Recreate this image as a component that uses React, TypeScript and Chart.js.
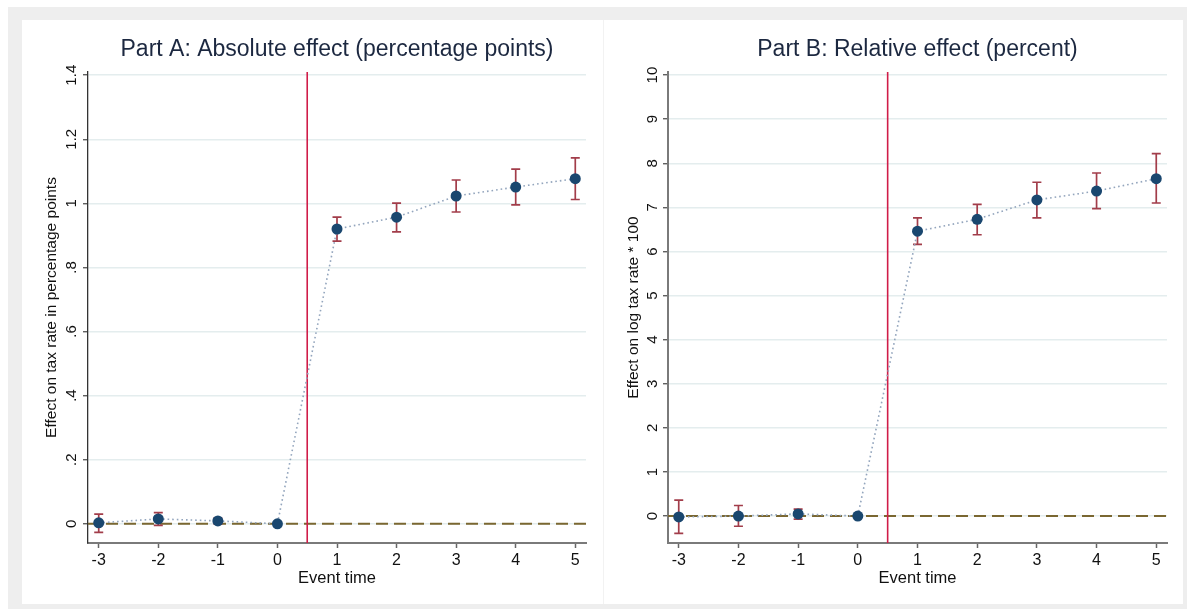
import React, { useEffect, useRef } from "react";
import { Chart, registerables } from "chart.js";

Chart.register(...registerables);

// Event-study estimates with 95% confidence intervals
const eventTime = [-3, -2, -1, 0, 1, 2, 3, 4, 5];

const absEstimate = [0.003, 0.015, 0.009, 0, 0.92, 0.957, 1.023, 1.051, 1.077];
const absLower = [-0.027, -0.005, 0.0, null, 0.882, 0.911, 0.973, 0.995, 1.012];
const absUpper = [0.03, 0.035, 0.018, null, 0.957, 1.001, 1.073, 1.107, 1.142];

const relEstimate = [-0.02, 0.0, 0.05, 0, 6.46, 6.73, 7.17, 7.37, 7.65];
const relLower = [-0.39, -0.23, -0.07, null, 6.16, 6.38, 6.76, 6.97, 7.1];
const relUpper = [0.36, 0.24, 0.16, null, 6.76, 7.07, 7.57, 7.78, 8.22];

const treatmentLine = 0.5;
const FONT = "'Liberation Sans', Arial, sans-serif";

// Zero reference (dashed) and treatment onset (vertical) lines
const refLines = {
  id: "refLines",
  beforeDatasetsDraw(chart: any) {
    const { ctx, chartArea, scales } = chart;
    const y0 = scales.y.getPixelForValue(0);
    const xv = scales.x.getPixelForValue(treatmentLine);
    ctx.save();
    ctx.strokeStyle = "#7a6731";
    ctx.lineWidth = 2;
    ctx.setLineDash([12, 6]);
    ctx.beginPath();
    ctx.moveTo(chartArea.left, y0);
    ctx.lineTo(chartArea.right, y0);
    ctx.stroke();
    ctx.setLineDash([]);
    ctx.strokeStyle = "#d01c48";
    ctx.lineWidth = 1.6;
    ctx.beginPath();
    ctx.moveTo(xv, chartArea.top);
    ctx.lineTo(xv, chartArea.bottom);
    ctx.stroke();
    ctx.restore();
  },
};

// Capped confidence-interval bars
const ciBars = {
  id: "ciBars",
  beforeDatasetsDraw(chart: any, _args: any, opts: any) {
    const { ctx, scales } = chart;
    const lo: (number | null)[] = opts.lower || [];
    const hi: (number | null)[] = opts.upper || [];
    ctx.save();
    ctx.strokeStyle = "#a23d4a";
    ctx.lineWidth = 1.7;
    const cap = 4.5;
    eventTime.forEach((t, i) => {
      if (lo[i] == null || hi[i] == null) return;
      const x = scales.x.getPixelForValue(t);
      const yl = scales.y.getPixelForValue(lo[i]);
      const yh = scales.y.getPixelForValue(hi[i]);
      ctx.beginPath();
      ctx.moveTo(x, yl);
      ctx.lineTo(x, yh);
      ctx.moveTo(x - cap, yl);
      ctx.lineTo(x + cap, yl);
      ctx.moveTo(x - cap, yh);
      ctx.lineTo(x + cap, yh);
      ctx.stroke();
    });
    ctx.restore();
  },
};

type PanelProps = {
  title: string;
  yTitle: string;
  estimate: number[];
  lower: (number | null)[];
  upper: (number | null)[];
  yMin: number;
  yMax: number;
  yStep: number;
  yFormat: (v: number) => string;
  yAxisWidth: number;
  yTickPad: number;
  rightPad: number;
  yBorderColor: string;
  yBorderWidth: number;
  width: number;
  height: number;
};

function Panel(p: PanelProps) {
  const ref = useRef<HTMLCanvasElement>(null);
  useEffect(() => {
    if (!ref.current) return;
    const chart = new Chart(ref.current, {
      type: "scatter",
      data: {
        datasets: [
          {
            data: eventTime.map((x, i) => ({ x, y: p.estimate[i] })),
            showLine: true,
            borderColor: "#93a5bd",
            borderWidth: 1.6,
            borderDash: [1.6, 3],
            pointRadius: 5.5,
            pointBackgroundColor: "#1a476f",
            pointBorderColor: "#1a476f",
            pointBorderWidth: 0,
          },
        ],
      },
      options: {
        animation: false,
        responsive: false,
        layout: { padding: { left: 0, right: p.rightPad, top: 0, bottom: 0 } },
        plugins: {
          legend: { display: false },
          tooltip: { enabled: false },
          title: {
            display: true,
            text: p.title,
            fullSize: false,
            color: "#1c2840",
            font: { family: FONT, size: 23, weight: "normal", lineHeight: 1.2 },
            padding: { top: 16, bottom: 8.4 },
          },
          ciBars: { lower: p.lower, upper: p.upper },
        } as any,
        scales: {
          x: {
            type: "linear",
            min: -3.18,
            max: 5.18,
            afterFit: (s: any) => {
              s.height = 61;
            },
            ticks: {
              stepSize: 1,
              includeBounds: false,
              padding: 3,
              color: "#111",
              font: { family: FONT, size: 16 },
              callback: (v: any) => String(v),
            },
            grid: {
              drawOnChartArea: false,
              drawTicks: true,
              tickLength: 5,
              tickColor: "#666",
              tickWidth: 1.5,
            },
            border: { color: "#7a7a7a", width: 2 },
            title: {
              display: true,
              text: "Event time",
              color: "#111",
              font: { family: FONT, size: 16.5, lineHeight: 1.2 },
              padding: { top: 0, bottom: 16 },
            },
          },
          y: {
            type: "linear",
            min: p.yMin,
            max: p.yMax,
            afterFit: (s: any) => {
              s.width = p.yAxisWidth;
            },
            ticks: {
              stepSize: p.yStep,
              includeBounds: false,
              minRotation: 90,
              maxRotation: 90,
              crossAlign: "center",
              padding: p.yTickPad,
              color: "#111",
              font: { family: FONT, size: 15 },
              callback: (v: any) => p.yFormat(Number(v)),
            },
            grid: {
              color: "#e4edee",
              lineWidth: 1.5,
              drawTicks: true,
              tickLength: 5,
              tickColor: "#444",
              tickWidth: 1.2,
            },
            border: { color: p.yBorderColor, width: p.yBorderWidth },
            title: {
              display: true,
              text: p.yTitle,
              color: "#111",
              font: { family: FONT, size: 15.5, lineHeight: 1.2 },
              padding: { top: 20, bottom: 0 },
            },
          },
        },
      } as any,
      plugins: [refLines, ciBars],
    });
    return () => chart.destroy();
  }, []);
  return <canvas ref={ref} width={p.width} height={p.height} style={{ display: "block" }} />;
}

const fmtAbs = (v: number) => {
  const r = Math.round(v * 10) / 10;
  return String(r).replace(/^0\./, ".");
};
const fmtRel = (v: number) => String(Math.round(v));

export default function App() {
  return (
    <div style={{ position: "absolute", left: 0, top: 0, width: 1187, height: 609, background: "#fff" }}>
      <div style={{ position: "absolute", left: 8, top: 7, width: 1179, height: 602, background: "#eeeeee" }} />
      <div style={{ position: "absolute", left: 22, top: 20, width: 1161, height: 584, background: "#fff" }} />
      <div style={{ position: "absolute", left: 603, top: 20, width: 1, height: 584, background: "#f2f2f2" }} />
      <div style={{ position: "absolute", left: 22, top: 20 }}>
        <Panel
          title="Part A: Absolute effect (percentage points)"
          yTitle="Effect on tax rate in percentage points"
          estimate={absEstimate}
          lower={absLower}
          upper={absUpper}
          yMin={-0.06}
          yMax={1.41}
          yStep={0.2}
          yFormat={fmtAbs}
          yAxisWidth={66}
          yTickPad={1}
          rightPad={17}
          yBorderColor="#333"
          yBorderWidth={1.3}
          width={581}
          height={584}
        />
      </div>
      <div style={{ position: "absolute", left: 604, top: 20 }}>
        <Panel
          title="Part B: Relative effect (percent)"
          yTitle="Effect on log tax rate * 100"
          estimate={relEstimate}
          lower={relLower}
          upper={relUpper}
          yMin={-0.61}
          yMax={10.07}
          yStep={1}
          yFormat={fmtRel}
          yAxisWidth={64}
          yTickPad={2}
          rightPad={16}
          yBorderColor="#7a7a7a"
          yBorderWidth={2}
          width={579}
          height={584}
        />
      </div>
    </div>
  );
}
